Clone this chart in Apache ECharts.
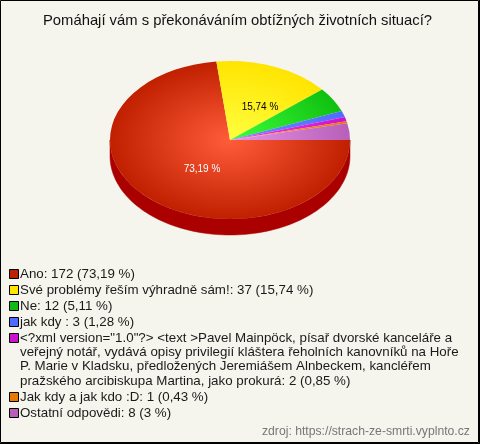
<!DOCTYPE html>
<html><head><meta charset="utf-8">
<style>html,body{margin:0;padding:0;background:#f5f5ee}#c{width:480px;height:444px}</style>
<script src="https://cdn.jsdelivr.net/npm/echarts@6/dist/echarts.min.js"></script>
</head><body><div id="c"></div>
<script>
const chartTitle = 'Pomáhají vám s překonáváním obtížných životních situací?';
const sourceNote = 'zdroj: https://strach-ze-smrti.vyplnto.cz';
const categories = ['Ano','Své problémy řeším výhradně sám!','Ne','jak kdy','xml','Jak kdy a jak kdo :D','Ostatní odpovědi'];
const values = [172,37,12,3,2,1,8];
const legendLines = [
  ['Ano: 172 (73,19 %)'],
  ['Své problémy řeším výhradně sám!: 37 (15,74 %)'],
  ['Ne: 12 (5,11 %)'],
  ['jak kdy : 3 (1,28 %)'],
  ['<?xml version="1.0"?> <text >Pavel Mainpöck, písař dvorské kanceláře a',
   'veřejný notář, vydává opisy privilegií kláštera řeholních kanovníků na Hoře',
   'P. Marie v Kladsku, předložených Jeremiášem Alnbeckem, kancléřem',
   'pražského arcibiskupa Martina, jako prokurá: 2 (0,85 %)'],
  ['Jak kdy a jak kdo :D: 1 (0,43 %)'],
  ['Ostatní odpovědi: 8 (3 %)']
];
const sliceLabels = ['73,19 %','15,74 %','','','','',''];
const labelColors = ['#ffffff','#000000','','','','',''];
const labelOffsets = [[-28,29],[30,-33],null,null,null,null,null];
const innerColors = ['#ff5c3a','#ffff40','#3cff3c','#6f8cff','#f03cf0','#ff9a20','#e692ea'];
const outerColors = ['#c02000','#ffe400','#10c010','#4f6cff','#d010d0','#e87800','#b860b8'];
const sideColors = ['#aa0000','#b09a00','#0a800a','#3040a0','#800080','#a05000','#804080'];
const legendColors = ['#bb2200','#ffe600','#11bb11','#4f6cff','#cc11cc','#e87800','#b860b8'];

const CX = 230, CY = 140, RX = 120, RY = 79, DEPTH = 16;
const FONT = '"Liberation Sans", Arial, sans-serif';
const total = values.reduce((a,b)=>a+b,0);

function renderSlice(params, api){
  const i = params.dataIndex;
  let before = 0;
  for(let k=0;k<i;k++) before += values[k];
  const a0 = before/total*Math.PI*2, a1 = (before+api.value(0))/total*Math.PI*2;
  const sy = RY/RX;
  const children = [];
  const s0 = a0, s1 = Math.min(a1, Math.PI);
  if(s1 > s0){
    const pts = [], n = 90;
    for(let k=0;k<=n;k++){const a=s0+(s1-s0)*k/n;pts.push([CX+RX*Math.cos(a),CY+RY*Math.sin(a)]);}
    for(let k=n;k>=0;k--){const a=s0+(s1-s0)*k/n;pts.push([CX+RX*Math.cos(a),CY+RY*Math.sin(a)+DEPTH]);}
    children.push({type:'polygon',shape:{points:pts},style:{fill:sideColors[i],stroke:sideColors[i],lineWidth:0.5}});
  }
  children.push({
    type:'sector',
    x:CX,y:CY,scaleX:1,scaleY:sy,
    shape:{cx:0,cy:0,r0:0,r:RX,startAngle:a0,endAngle:a1,clockwise:true},
    style:{fill:new echarts.graphic.RadialGradient(0,0,RX,[
      {offset:0,color:innerColors[i]},{offset:1,color:outerColors[i]}],true)}
  });
  return {type:'group',children};
}
function renderLabel(params, api){
  const i = params.dataIndex;
  if(!sliceLabels[i]) return null;
  const o = labelOffsets[i];
  return {type:'text',x:CX+o[0],y:CY+o[1],style:{text:sliceLabels[i],fill:labelColors[i],
    font:'10px '+FONT,align:'center',verticalAlign:'middle'}};
}

const seriesData = categories.map((c,i)=>({name:c,value:values[i]}));
const legendGraphics = [];
let ly = 274;
const LH = 14.4, GAP = 16;
legendLines.forEach((lines,i)=>{
  legendGraphics.push({type:'rect',shape:{x:9.5,y:Math.round(ly)-4.5,width:9,height:9},
    style:{fill:legendColors[i],stroke:'#000',lineWidth:1},silent:true});
  lines.forEach((t,j)=>{
    legendGraphics.push({type:'text',x:20,y:ly+j*LH,silent:true,
      style:{text:t,fill:'#1a1a1a',font:'13.33px '+FONT,verticalAlign:'middle'}});
  });
  ly += (lines.length-1)*LH + GAP;
});

const chart = echarts.init(document.getElementById('c'),null,{renderer:'canvas'});
chart.setOption({
  animation:false,
  backgroundColor:'#f5f5ee',
  title:{text:chartTitle,left:38,top:8,textStyle:{fontFamily:FONT,fontSize:14.8,fontWeight:'normal',color:'#111'}},
  tooltip:{show:false},
  series:[
    {type:'custom',coordinateSystem:'none',renderItem:renderSlice,data:seriesData,silent:true,z:2},
    {type:'custom',coordinateSystem:'none',renderItem:renderLabel,data:seriesData,silent:true,z:3}
  ],
  graphic:[
    {type:'rect',shape:{x:0.5,y:0.5,width:478,height:442},style:{fill:'none',stroke:'#000',lineWidth:1},silent:true},
    {type:'rect',shape:{x:479,y:0,width:1,height:444},style:{fill:'#000'},silent:true},
    {type:'rect',shape:{x:0,y:443,width:480,height:1},style:{fill:'#000'},silent:true},
    ...legendGraphics,
    {type:'text',x:262,y:432,silent:true,style:{text:sourceNote,fill:'#777',font:'12.2px '+FONT,verticalAlign:'middle'}}
  ]
});
</script></body></html>
